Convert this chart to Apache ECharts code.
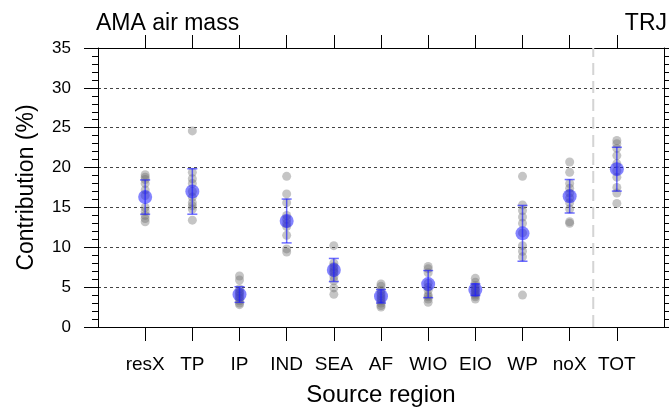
<!DOCTYPE html>
<html>
<head>
<meta charset="utf-8">
<script src="https://cdn.jsdelivr.net/npm/echarts@6/dist/echarts.min.js"></script>
<style>
html,body{margin:0;padding:0;background:#fff;}
#chart{width:669px;height:412px;}
</style>
</head>
<body>
<div id="chart"></div>
<script>
// ---- data ----
const categories = ['resX','TP','IP','IND','SEA','AF','WIO','EIO','WP','noX','TOT'];
const members = [
  [19.1, 18.8, 18.5, 18.0, 17.2, 16.5, 15.0, 14.5, 14.0, 13.6, 13.2],
  [24.6, 19.4, 18.6, 18.0, 17.0, 16.3, 15.6, 15.2, 14.8, 13.4],
  [6.4, 5.9, 4.8, 4.4, 4.2, 3.9, 3.6, 3.3, 3.0, 2.8],
  [18.9, 16.7, 15.6, 14.0, 13.5, 13.0, 12.6, 11.5, 9.8, 9.4],
  [10.2, 8.0, 7.6, 7.3, 7.0, 6.8, 6.3, 5.8, 4.9, 4.1],
  [5.4, 5.1, 4.6, 4.2, 3.9, 3.6, 3.3, 3.0, 2.7, 2.5],
  [7.6, 7.3, 6.8, 5.5, 5.0, 4.6, 4.0, 3.8, 3.5, 3.1],
  [6.1, 5.6, 5.2, 4.9, 4.7, 4.5, 4.2, 4.0, 3.8, 3.5],
  [18.9, 15.3, 14.6, 13.8, 13.0, 11.8, 10.2, 9.5, 8.8, 4.0],
  [20.7, 19.4, 18.0, 17.4, 16.8, 16.2, 15.6, 14.8, 13.2, 13.0],
  [23.4, 23.0, 22.4, 21.5, 20.5, 19.6, 18.8, 17.5, 16.8, 15.5]
];
const means = [16.3, 17.0, 4.07, 13.3, 7.15, 3.86, 5.38, 4.68, 11.75, 16.4, 19.8];
const stdev = [2.15, 2.85, 0.98, 2.75, 1.45, 0.85, 1.7, 0.73, 3.5, 2.1, 2.75];
const yTicks = [0, 5, 10, 15, 20, 25, 30, 35];
const separatorAt = 10.5;
const leftTitle = 'AMA air mass';
const rightTitle = 'TRJ';
// ---- build ----
const catPos = categories.map((c, i) => i + 1);
const memberData = [];
members.forEach((arr, i) => arr.forEach(v => memberData.push([catPos[i], v])));
const meanData = means.map((m, i) => [catPos[i], m]);
const errData = means.map((m, i) => [catPos[i], m - stdev[i], m + stdev[i]]);

const FONT = 'Liberation Sans, Arial, Helvetica, sans-serif';
const chart = echarts.init(document.getElementById('chart'), null, {renderer: 'canvas'});
const axisLineStyle = {color: '#000', width: 1};
chart.setOption({
  animation: false,
  backgroundColor: '#fff',
  textStyle: {fontFamily: FONT},
  title: [
    {text: leftTitle, left: 96, top: 12, padding: 0, textStyle: {fontSize: 23, fontWeight: 'normal', color: '#000', fontFamily: FONT}},
    {text: rightTitle, right: 2, top: 12, padding: 0, textStyle: {fontSize: 23, fontWeight: 'normal', color: '#000', fontFamily: FONT}}
  ],
  grid: {left: 98, right: 5, top: 48, bottom: 80, containLabel: false},
  xAxis: [
    {
      type: 'value', min: 0, max: 12, interval: 1, position: 'bottom',
      name: 'Source region', nameLocation: 'middle', nameGap: 56, nameMoveOverlap: false,
      nameTextStyle: {fontSize: 24, color: '#000', fontFamily: FONT},
      axisLine: {show: true, onZero: false, lineStyle: axisLineStyle},
      axisTick: {show: true, length: 14, lineStyle: axisLineStyle, customValues: catPos},
      axisLabel: {
        show: true, customValues: catPos, margin: 28, fontSize: 19, color: '#000', fontFamily: FONT,
        formatter: v => categories[Math.round(v) - 1] || ''
      },
      splitLine: {show: false}
    },
    {
      type: 'value', min: 0, max: 12, interval: 1, position: 'top',
      axisLine: {show: true, onZero: false, lineStyle: axisLineStyle},
      axisTick: {show: true, length: 13, lineStyle: axisLineStyle, customValues: catPos},
      axisLabel: {show: false},
      splitLine: {show: false}
    }
  ],
  yAxis: [
    {
      type: 'value', min: 0, max: 35, interval: 5, position: 'left',
      name: 'Contribution (%)', nameLocation: 'middle', nameGap: 60, nameMoveOverlap: false,
      nameTextStyle: {fontSize: 23, color: '#000', fontFamily: FONT},
      axisLine: {show: true, onZero: false, lineStyle: axisLineStyle},
      axisTick: {show: true, length: 14, lineStyle: axisLineStyle},
      minorTick: {show: true, splitNumber: 5, length: 6, lineStyle: axisLineStyle},
      axisLabel: {show: true, margin: 27, fontSize: 17, color: '#000', fontFamily: FONT,
        customValues: yTicks},
      splitLine: {show: true, lineStyle: {color: '#444', width: 1, type: [3, 3]}}
    },
    {
      type: 'value', min: 0, max: 35, interval: 5, position: 'right',
      axisLine: {show: true, onZero: false, lineStyle: axisLineStyle},
      axisTick: {show: true, length: 10, lineStyle: axisLineStyle},
      minorTick: {show: true, splitNumber: 5, length: 6, lineStyle: axisLineStyle},
      axisLabel: {show: false},
      splitLine: {show: false}
    }
  ],
  series: [
    {
      type: 'line', xAxisIndex: 0, yAxisIndex: 0, silent: true,
      data: [[separatorAt, 0], [separatorAt, 35]], symbol: 'none',
      lineStyle: {color: '#d4d4d4', width: 2, type: [12, 6]}, z: 1
    },
    {
      type: 'scatter', xAxisIndex: 0, yAxisIndex: 0, data: memberData,
      symbol: 'circle', symbolSize: 9,
      itemStyle: {color: 'rgba(110,110,110,0.5)'}, z: 2
    },
    {
      type: 'scatter', xAxisIndex: 0, yAxisIndex: 0, data: meanData,
      symbol: 'circle', symbolSize: 14,
      itemStyle: {color: 'rgba(20,20,255,0.65)'}, z: 3
    },
    {
      type: 'custom', xAxisIndex: 0, yAxisIndex: 0, data: errData, z: 4,
      encode: {x: 0, y: [1, 2]},
      renderItem: function (params, api) {
        const x = api.value(0);
        const lo = api.coord([x, api.value(1)]);
        const hi = api.coord([x, api.value(2)]);
        const hw = 5;
        const style = {stroke: 'rgba(30,30,255,0.65)', lineWidth: 1.5, fill: null};
        return {
          type: 'group',
          children: [
            {type: 'line', shape: {x1: lo[0], y1: lo[1], x2: hi[0], y2: hi[1]}, style: style},
            {type: 'line', shape: {x1: lo[0] - hw, y1: lo[1], x2: lo[0] + hw, y2: lo[1]}, style: style},
            {type: 'line', shape: {x1: hi[0] - hw, y1: hi[1], x2: hi[0] + hw, y2: hi[1]}, style: style}
          ]
        };
      }
    }
  ]
});
</script>
</body>
</html>
